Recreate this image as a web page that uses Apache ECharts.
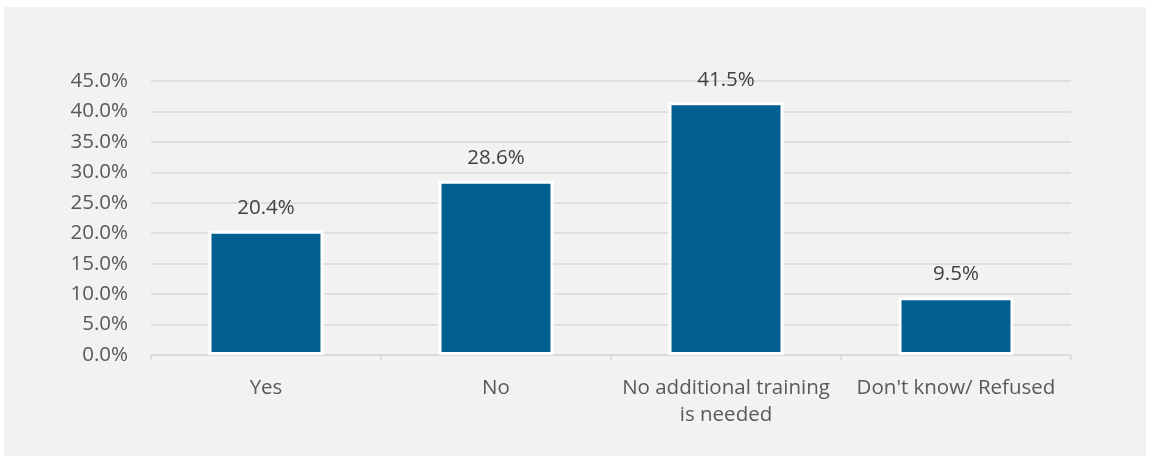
<!DOCTYPE html>
<html>
<head>
<meta charset="utf-8">
<script src="https://cdn.jsdelivr.net/npm/echarts@6/dist/echarts.min.js"></script>
<style>
  html, body { margin: 0; padding: 0; background: #ffffff; }
  #frame { position: absolute; left: 4px; top: 7px; width: 1142px; height: 449px; background: #f2f2f2; }
  #chart { position: absolute; left: 0; top: 0; width: 1149px; height: 458px; }
</style>
</head>
<body>
<div id="frame"></div>
<div id="chart"></div>
<script>
// Survey responses (share of respondents, %)
const categories = ['Yes', 'No', 'No additional training\nis needed', "Don't know/ Refused"];
const shares = [20.4, 28.6, 41.5, 9.5];
const yMin = 0;
const yMax = 45;
const yStep = 5;

const chart = echarts.init(document.getElementById('chart'), null, { renderer: 'canvas' });
const font = '"Open Sans", "Noto Sans", sans-serif';

chart.setOption({
  backgroundColor: 'transparent',
  animation: false,
  grid: { left: 151, right: 78, top: 81, bottom: 103, containLabel: false },
  xAxis: {
    type: 'category',
    data: categories,
    axisLine: { lineStyle: { color: '#d9d9d9', width: 1.5 } },
    axisTick: { show: true, length: 5, lineStyle: { color: '#d9d9d9', width: 1.5 } },
    axisLabel: { interval: 0, color: '#595959', fontSize: 20.5, fontFamily: font, margin: 20, lineHeight: 27 }
  },
  yAxis: {
    type: 'value',
    min: yMin,
    max: yMax,
    interval: yStep,
    axisLine: { show: false },
    axisTick: { show: false },
    splitLine: { lineStyle: { color: '#d9d9d9', width: 1.5 } },
    axisLabel: {
      color: '#595959', fontSize: 20.5, fontFamily: font, margin: 23,
      formatter: v => v.toFixed(1) + '%'
    }
  },
  series: [{
    type: 'bar',
    data: shares,
    barWidth: '50%',
    itemStyle: { color: '#025f92', borderColor: '#ffffff', borderWidth: 3 },
    label: {
      show: true,
      position: 'top',
      distance: 12,
      color: '#404040',
      fontSize: 20.5,
      fontFamily: font,
      formatter: p => p.value.toFixed(1) + '%'
    }
  }]
});
</script>
</body>
</html>
